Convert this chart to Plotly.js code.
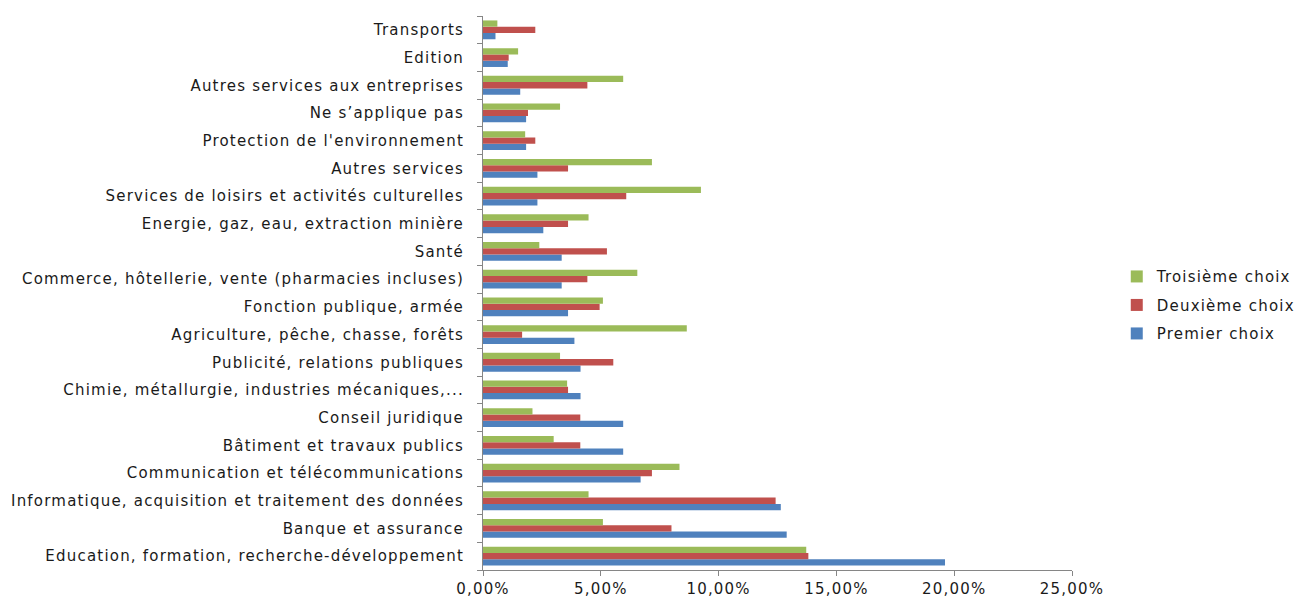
<!DOCTYPE html>
<html>
<head>
<meta charset="utf-8">
<script src="https://cdn.plot.ly/plotly-3.0.1.min.js"></script>
<style>
html,body{margin:0;padding:0;background:#fff;}
#chart{width:1297px;height:599px;}
#chart .ytick text, #chart .xtick text, #chart .legendtext {letter-spacing: 1.2px;}
#chart .legend .scrollbox {clip-path: none !important;}
</style>
</head>
<body>
<div id="chart"></div>
<script>
const categories = [
  "Education, formation, recherche-développement",
  "Banque et assurance",
  "Informatique, acquisition et traitement des données",
  "Communication et télécommunications",
  "Bâtiment et travaux publics",
  "Conseil juridique",
  "Chimie, métallurgie, industries mécaniques,...",
  "Publicité, relations publiques",
  "Agriculture, pêche, chasse, forêts",
  "Fonction publique, armée",
  "Commerce, hôtellerie, vente (pharmacies incluses)",
  "Santé",
  "Energie, gaz, eau, extraction minière",
  "Services de loisirs et activités culturelles",
  "Autres services",
  "Protection de l'environnement",
  "Ne s’applique pas",
  "Autres services aux entreprises",
  "Edition",
  "Transports"
];
const premierChoix = [0.1961, 0.1289, 0.1264, 0.0669, 0.0595, 0.0595, 0.0414, 0.0414, 0.0388, 0.0361, 0.0334, 0.0334, 0.0256, 0.0231, 0.0231, 0.0183, 0.0183, 0.0158, 0.0105, 0.0053];
const deuxiemeChoix = [0.1381, 0.0800, 0.1242, 0.0717, 0.0413, 0.0413, 0.0361, 0.0553, 0.0166, 0.0495, 0.0443, 0.0526, 0.0361, 0.0608, 0.0361, 0.0222, 0.0191, 0.0443, 0.0109, 0.0222];
const troisiemeChoix = [0.1372, 0.0509, 0.0448, 0.0834, 0.0300, 0.0210, 0.0357, 0.0327, 0.0865, 0.0509, 0.0655, 0.0239, 0.0448, 0.0925, 0.0717, 0.0179, 0.0327, 0.0595, 0.0149, 0.0061];
const seriesNames = ["Premier choix", "Deuxième choix", "Troisième choix"];
const xTicks = [0, 0.05, 0.10, 0.15, 0.20, 0.25];

const colors = ["#4F81BD", "#C0504D", "#9BBB59"];
const values = [premierChoix, deuxiemeChoix, troisiemeChoix];
const data = values.map((v, i) => ({
  type: "bar",
  orientation: "h",
  name: seriesNames[i],
  legendgroup: "g" + i,
  legendrank: 3 - i,
  y: categories,
  x: v,
  marker: {color: colors[i]},
  hoverinfo: "x+y+name"
}));

const layout = {
  width: 1297,
  height: 599,
  margin: {l: 483, r: 225, t: 16, b: 29},
  paper_bgcolor: "#fff",
  plot_bgcolor: "#fff",
  separators: ", ",
  barmode: "group",
  bargap: 0.32,
  bargroupgap: 0,
  font: {family: "DejaVu Sans, sans-serif", size: 15, color: "#1a1a1a"},
  xaxis: {
    range: [0, 0.25],
    tickvals: xTicks,
    tickformat: ".2%",
    showgrid: false,
    zeroline: false,
    showline: true,
    linecolor: "#868686",
    linewidth: 1,
    ticks: "outside",
    ticklen: 5,
    tickcolor: "#868686",
    tickfont: {size: 15}
  },
  yaxis: {
    type: "category",
    categoryorder: "array",
    categoryarray: categories,
    showgrid: false,
    zeroline: false,
    showline: true,
    linecolor: "#868686",
    linewidth: 1,
    ticks: "outside",
    tickson: "boundaries",
    ticklen: 5,
    tickcolor: "#868686",
    ticklabelstandoff: 15,
    tickfont: {size: 15}
  },
  legend: {
    x: 1.076, xanchor: "left",
    y: 0.478, yanchor: "middle",
    traceorder: "grouped",
    tracegroupgap: 6,
    font: {size: 15},
    bgcolor: "rgba(0,0,0,0)"
  },
  showlegend: true
};

Plotly.newPlot("chart", data, layout, {displayModeBar: false, staticPlot: true});
</script>
</body>
</html>
